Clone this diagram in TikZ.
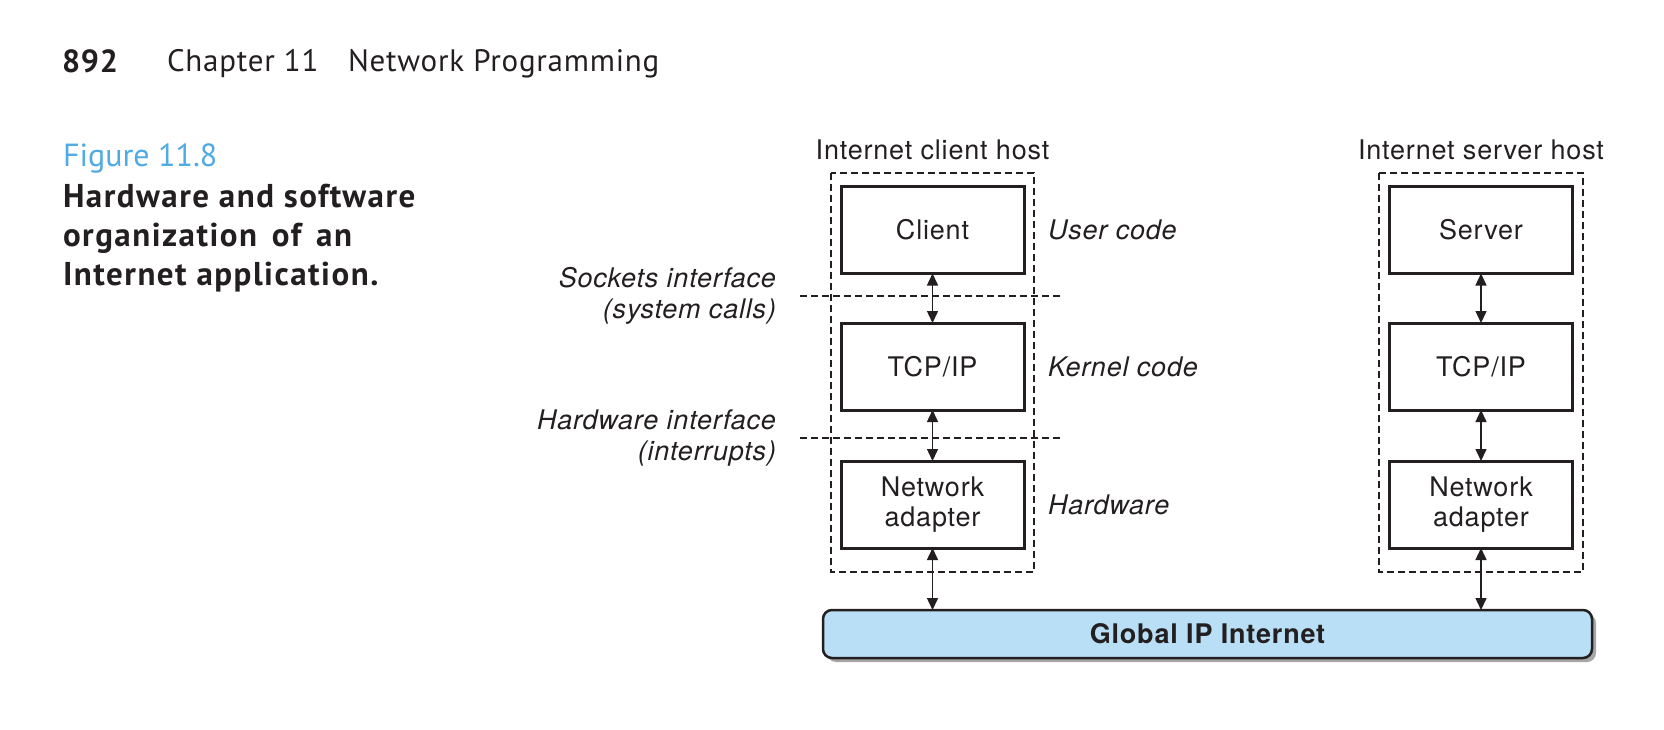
\documentclass[tikz,border=0pt]{standalone}
\usepackage{fontspec}
\usetikzlibrary{arrows.meta,shadows}
\newfontfamily\hfont[LetterSpace=3]{TeX Gyre Heros}
\newfontfamily\capfont[LetterSpace=2.5]{PT Sans}
\newfontfamily\figfont{PT Sans}
\newfontfamily\capbold[LetterSpace=4.5]{PT Sans}
\definecolor{ink}{RGB}{35,31,32}
\definecolor{figblue}{RGB}{80,170,228}
\definecolor{netblue}{RGB}{184,223,245}
\tikzset{
  x=1pt,y=-1pt,
  every node/.style={inner sep=0pt,outer sep=0pt,text=ink},
  dfont/.style={font=\hfont\fontsize{27}{30}\selectfont},
  ifont/.style={font=\hfont\itshape\fontsize{27}{31}\selectfont},
  layerbox/.style={draw=ink,line width=3pt,minimum width=183pt,minimum height=87pt,align=center,dfont},
  hostbox/.style={draw=ink,line width=1.3pt,dash pattern=on 7pt off 4pt},
  sepline/.style={draw=ink,line width=1.3pt,dash pattern=on 7pt off 4pt},
  biarrow/.style={draw=ink,line width=1.5pt,{Triangle[length=12pt,width=11pt]}-{Triangle[length=12pt,width=11pt]}},
}
\begin{document}
\begin{tikzpicture}
\useasboundingbox (0,0) rectangle (1664,730);
% header
\node[anchor=base west,font=\capfont\bfseries\fontsize{32}{36}\selectfont] (pg) at (62,73) {892};
\node[anchor=base west,font=\capfont\fontsize{31}{34}\selectfont] (ch) at (167,72) {Chapter 11};
\node[anchor=base west,font=\capfont\fontsize{31}{34}\selectfont] (np) at (348,72) {Network Programming};
% caption
\node[anchor=base west,font=\figfont\fontsize{32}{36}\selectfont,text=figblue] (fig) at (63,167) {Figure 11.8};
\node[anchor=base west,align=left,font=\capbold\bfseries\fontsize{33}{39}\selectfont] (cap) at (63,285)
  {Hardware and software\\organization\hspace{0.45em}of\hspace{0.45em}an\\Internet application.};
% host boxes
\draw[hostbox] (831,173) rectangle (1034,572);
\draw[hostbox] (1379,173) rectangle (1583,572);
\node[anchor=base,dfont] (chost) at (932.5,160) {Internet client host};
\node[anchor=base,dfont] (shost) at (1481,160) {Internet server host};
% layer boxes
\node[layerbox] (client) at (932.5,230) {Client};
\node[layerbox] (ctcp) at (932.5,366.5) {TCP/IP};
\node[layerbox] (cna) at (932.5,504.5) {Network\\adapter};
\node[layerbox] (server) at (1481,230) {Server};
\node[layerbox] (stcp) at (1481,366.5) {TCP/IP};
\node[layerbox] (sna) at (1481,504.5) {Network\\adapter};
% global internet
\node[draw=ink,line width=2.5pt,rounded corners=9pt,fill=netblue,minimum width=769pt,minimum height=48pt,
  font=\hfont\bfseries\fontsize{27}{30}\selectfont,
  drop shadow={shadow xshift=4pt,shadow yshift=-4pt,fill=black!35,opacity=1}] (glob) at (1207.5,634) {Global IP Internet};
% separators
\coordinate (s1a) at (800,296);
\coordinate (s1b) at (1062,296);
\coordinate (s2a) at (800,438);
\coordinate (s2b) at (1062,438);
\draw[sepline] (s1a) -- (s1b);
\draw[sepline] (s2a) -- (s2b);
% arrows
\draw[biarrow] (client.south) -- (ctcp.north);
\draw[biarrow] (ctcp.south) -- (cna.north);
\draw[biarrow] (cna.south) -- (cna.south |- glob.north);
\draw[biarrow] (server.south) -- (stcp.north);
\draw[biarrow] (stcp.south) -- (sna.north);
\draw[biarrow] (sna.south) -- (sna.south |- glob.north);
% side labels
\node[anchor=west,ifont] (user) at (1048,230) {User code};
\node[anchor=west,ifont] (kern) at (1048,366.5) {Kernel code};
\node[anchor=west,ifont] (hw) at (1048,504.5) {Hardware};
\node[anchor=base east,ifont,align=right] (sock) at (776,318) {Sockets interface\\(system calls)};
\node[anchor=base east,ifont,align=right] (hwi) at (776,460) {Hardware interface\\(interrupts)};
\end{tikzpicture}
\end{document}
